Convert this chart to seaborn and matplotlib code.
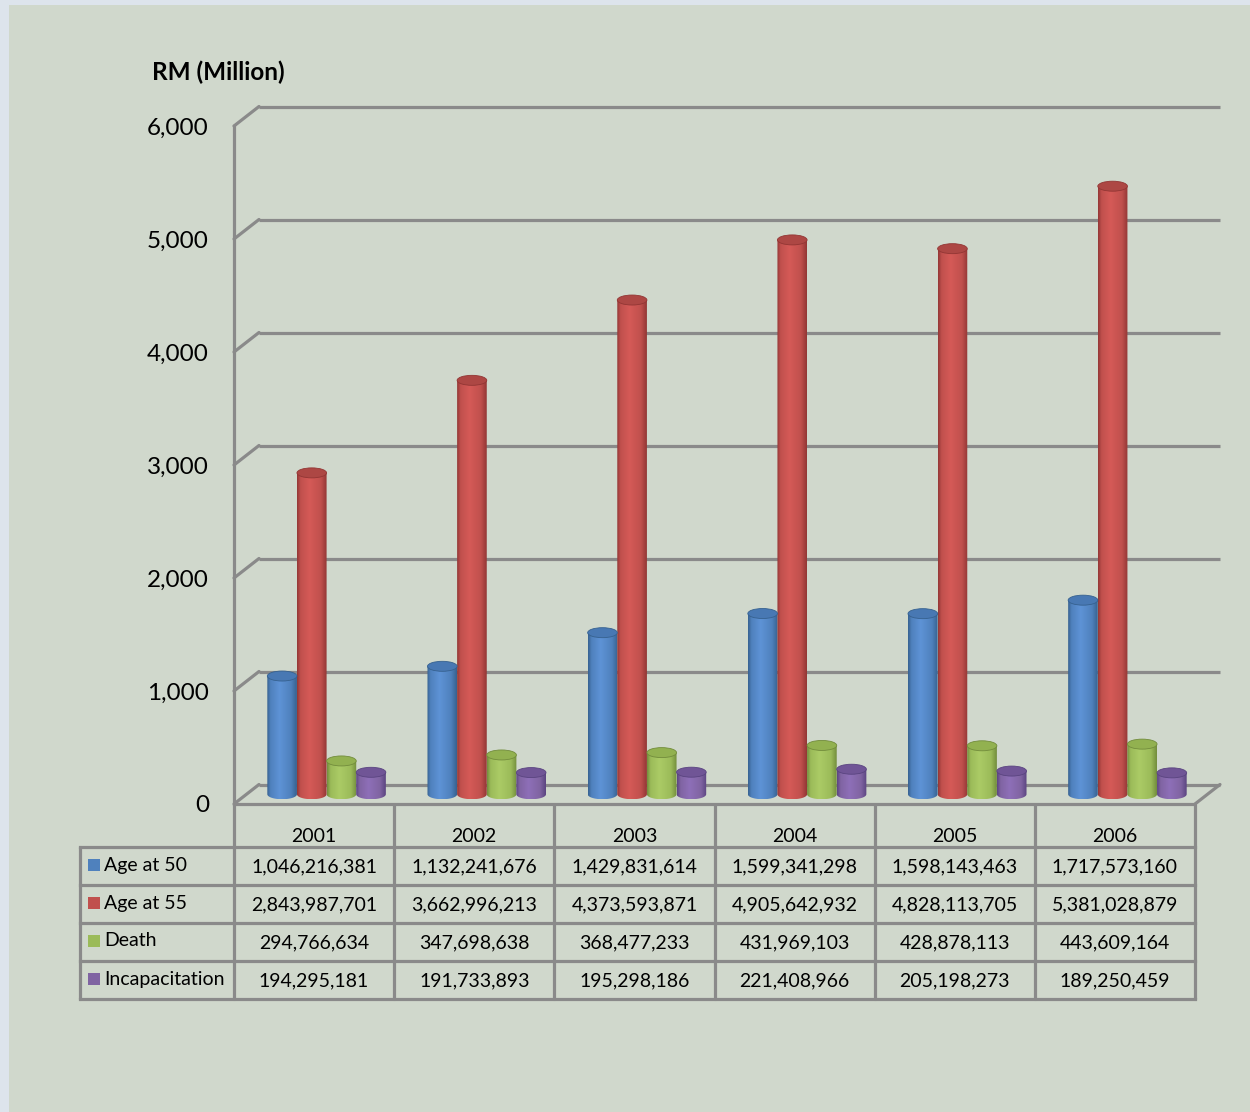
import numpy as np
import pandas as pd
import matplotlib
matplotlib.use("Agg")
import matplotlib.pyplot as plt
import seaborn as sns
from matplotlib.path import Path
from matplotlib.patches import PathPatch, Ellipse, Rectangle
from matplotlib.colors import LinearSegmentedColormap

# ---- data -----------------------------------------------------------------
years = ["2001", "2002", "2003", "2004", "2005", "2006"]
series = ["Age at 50", "Age at 55", "Death", "Incapacitation"]
age_50 = [1046216381, 1132241676, 1429831614, 1599341298, 1598143463, 1717573160]
age_55 = [2843987701, 3662996213, 4373593871, 4905642932, 4828113705, 5381028879]
death = [294766634, 347698638, 368477233, 431969103, 428878113, 443609164]
incapacitation = [194295181, 191733893, 195298186, 221408966, 205198273, 189250459]
y_ticks = [0, 1000, 2000, 3000, 4000, 5000, 6000]

# ---- style ----------------------------------------------------------------
colors = ["#4F81BD", "#C0504D", "#9BBB59", "#8064A2"]
# cylinder shading: (edge, light centre, top cap)
shades = {
    "#4F81BD": ("#36618F", "#5E93D6", "#4878B3"),
    "#C0504D": ("#923634", "#D55A57", "#AD4744"),
    "#9BBB59": ("#728C3C", "#ABCB66", "#92B150"),
    "#8064A2": ("#5A4480", "#8E6FB8", "#705596"),
}
BG = "#D0D8CC"
GRID = "#8A8A8A"
FONT = "Lato"

sns.set_theme(style="white")
plt.rcParams["font.family"] = [FONT, "DejaVu Sans"]

W, H = 1250, 1112
fig = plt.figure(figsize=(W / 100, H / 100), dpi=100)
fig.patch.set_facecolor("#DDE4EC")
fig.patches.append(Rectangle((9 / W, 0), 1 - 9 / W, 1 - 5 / H, transform=fig.transFigure,
                             facecolor=BG, edgecolor="none", zorder=-10))

# front plane of the plot box (pixel layout)
AX_L, AX_R, AX_B, AX_T = 234, 1195, 804, 126
ax = fig.add_axes([AX_L / W, 1 - AX_B / H, (AX_R - AX_L) / W, (AX_B - AX_T) / H])
ax.patch.set_alpha(0)

df = pd.DataFrame({
    "year": np.repeat(years, len(series)),
    "series": series * len(years),
    "value": np.array([age_50, age_55, death, incapacitation]).T.ravel() / 1e6,
})

sns.barplot(data=df, x="year", y="value", hue="series", order=years, hue_order=series,
            palette=colors, width=0.74, saturation=1, errorbar=None, legend=False,
            ax=ax, zorder=2)

ax.set_xlim(-0.5, len(years) - 0.5)
ax.set_ylim(0, 6000)

# depth of the box, in data units
px_x = (len(years)) / (AX_R - AX_L)
px_y = 6000 / (AX_B - AX_T)
DX = 25 * px_x
DY = 19.5 * px_y
RY = 5 * px_y  # half height of cylinder caps

# back wall grid, side-wall diagonals and floor edges
lw = 2.3
for v in y_ticks:
    ax.plot([-0.5 + DX, len(years) - 0.5 + DX], [v + DY, v + DY], color=GRID, lw=lw,
            clip_on=False, zorder=1, solid_capstyle="butt")
    ax.plot([-0.5, -0.5 + DX], [v, v + DY], color=GRID, lw=lw, clip_on=False, zorder=1)
ax.plot([-0.5, len(years) - 0.5], [0, 0], color=GRID, lw=lw, clip_on=False, zorder=1)
ax.plot([len(years) - 0.5, len(years) - 0.5 + DX], [0, DY], color=GRID, lw=lw,
        clip_on=False, zorder=1)

# turn the flat bars into shaded cylinders standing mid-depth
grad = np.linspace(0, 1, 256).reshape(1, -1)
for container, col in zip(ax.containers, colors):
    edge, light, top = shades[col]
    cmap = LinearSegmentedColormap.from_list(
        "cyl", [(0.0, edge), (0.12, col), (0.42, light), (0.8, col), (1.0, edge)])
    for bar in container:
        bar.set_x(bar.get_x() + DX / 2)
        bar.set_y(DY / 2)
        x0, w, h = bar.get_x(), bar.get_width(), bar.get_height()
        y0 = DY / 2
        xc = x0 + w / 2
        th = np.linspace(np.pi, 2 * np.pi, 40)
        verts = [(x0, y0 + h), (x0, y0)]
        verts += list(zip(xc + w / 2 * np.cos(th), y0 + RY * np.sin(th)))
        verts += [(x0 + w, y0 + h), (x0, y0 + h)]
        clip = PathPatch(Path(verts), transform=ax.transData, facecolor="none",
                         edgecolor="none")
        ax.add_patch(clip)
        bar.set_visible(False)
        im = ax.imshow(grad, cmap=cmap, extent=[x0, x0 + w, y0 - RY, y0 + h],
                       aspect="auto", interpolation="bilinear", zorder=3)
        im.set_clip_path(clip)
        ax.add_patch(Ellipse((xc, y0 + h), w, 2 * RY, facecolor=top, edgecolor=edge,
                             lw=0.6, zorder=4))

ax.set_xlim(-0.5, len(years) - 0.5)
ax.set_ylim(0, 6000)

# front value axis
for s in ["top", "right", "bottom"]:
    ax.spines[s].set_visible(False)
ax.spines["left"].set_color(GRID)
ax.spines["left"].set_linewidth(lw)
ax.set_yticks(y_ticks)
ax.set_yticklabels([f"{v:,}" for v in y_ticks], fontsize=17.5, color="black")
ax.tick_params(axis="y", length=0, pad=18)
ax.set_xticks([])
ax.set_xlabel("")
ax.set_ylabel("")

fig.text(152 / W, 1 - 72 / H, "RM (Million)", fontsize=17.5, fontweight="bold",
         va="center", ha="left", color="black")

# ---- data table under the chart -------------------------------------------
tab = fig.add_axes([0, 0, 1, 1])
tab.set_xlim(0, W)
tab.set_ylim(H, 0)
tab.axis("off")
tab.patch.set_alpha(0)

col_w = (AX_R - AX_L) / len(years)
col_edges = [AX_L + k * col_w for k in range(len(years) + 1)]
TAB_L = 80
head_top, head_bot = 805, 847
row_h = 38
row_edges = [head_bot + k * row_h for k in range(len(series) + 1)]

for y in row_edges:
    tab.plot([TAB_L, AX_R], [y, y], color=GRID, lw=lw, solid_capstyle="projecting")
tab.plot([TAB_L, TAB_L], [row_edges[0], row_edges[-1]], color=GRID, lw=lw)
for x in col_edges:
    tab.plot([x, x], [head_top, row_edges[-1]], color=GRID, lw=lw)

for k, yr in enumerate(years):
    tab.text((col_edges[k] + col_edges[k + 1]) / 2, 836, yr, fontsize=14,
             ha="center", va="center", color="black")

table_rows = [age_50, age_55, death, incapacitation]
for r, (name, vals, col) in enumerate(zip(series, table_rows, colors)):
    yc = (row_edges[r] + row_edges[r + 1]) / 2
    tab.add_patch(Rectangle((88, yc - 7), 12, 12, facecolor=col, edgecolor="none"))
    tab.text(104, yc - 1, name, fontsize=14, ha="left", va="center", color="black")
    for k, v in enumerate(vals):
        tab.text((col_edges[k] + col_edges[k + 1]) / 2, yc + 1, f"{v:,}", fontsize=14,
                 ha="center", va="center", color="black")

fig.savefig("out.png", dpi=100, facecolor=fig.get_facecolor())
